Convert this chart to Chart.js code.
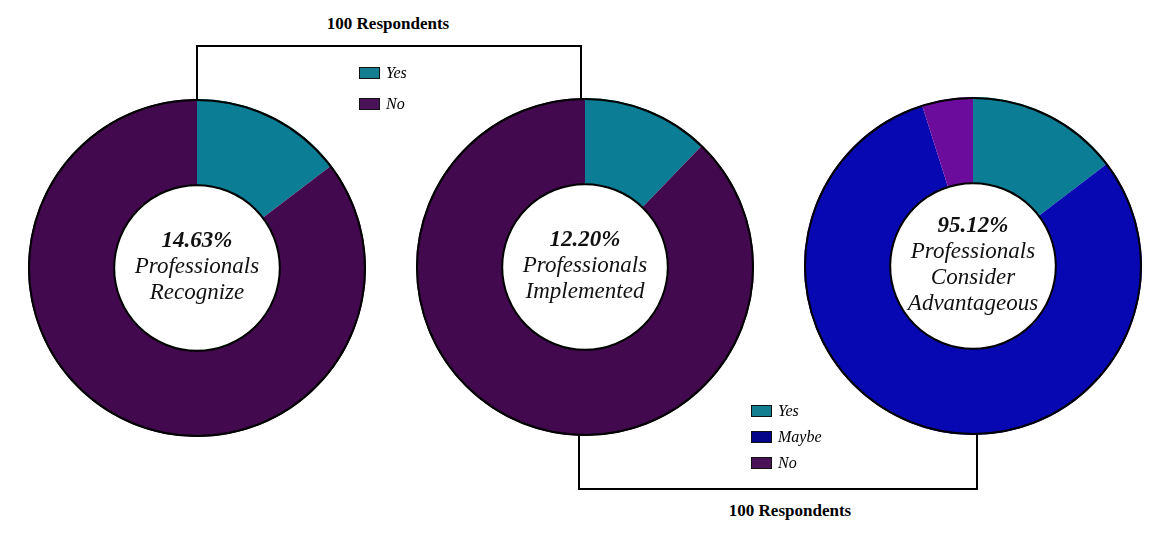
<!DOCTYPE html>
<html>
<head>
<meta charset="utf-8">
<script src="https://cdn.jsdelivr.net/npm/chart.js@4"></script>
<style>
    body { margin: 0; background: #fff; width: 1171px; height: 537px; position: relative; overflow: hidden; font-family: "Liberation Serif", "Times New Roman", serif; }
    canvas { position: absolute; z-index: 2; }
    .box { position: absolute; border: 2px solid #000; z-index: 1; }
    .caption { position: absolute; font-weight: bold; font-size: 17px; width: 200px; text-align: center; }
    .legend { position: absolute; font-style: italic; font-size: 16px; z-index: 3; }
    .legend div { height: 26px; line-height: 26px; }
    #legendTop div { height: 31px; line-height: 31px; }
    .legend span { display: inline-block; width: 19px; height: 10px; border: 1.5px solid #111; margin-right: 6px; vertical-align: -1px; }
    .center { position: absolute; z-index: 4; width: 200px; text-align: center; font-style: italic; font-size: 23px; line-height: 26px; color: #111; }
    .center b { font-weight: bold; }
</style>
</head>
<body>
<div class="box" style="left:196px; top:45px; width:382px; height:60px; border-bottom:none;"></div>
<div class="caption" style="left:288px; top:14px;">100 Respondents</div>
<div class="legend" id="legendTop" style="left:359px; top:57px;"></div>

<div class="box" style="left:578px; top:420px; width:396px; height:68px; border-top:none;"></div>
<div class="caption" style="left:690px; top:501px;">100 Respondents</div>
<div class="legend" id="legendBottom" style="left:751px; top:398px;"></div>

<canvas id="recognize" width="338" height="338" style="left:28px; top:99px;"></canvas>
<canvas id="implemented" width="338" height="338" style="left:416px; top:98px;"></canvas>
<canvas id="advantageous" width="338" height="338" style="left:804px; top:97px;"></canvas>

<script>
// answers and shares (out of 41 professionals)
var labels2 = ['Yes', 'No'];
var labels3 = ['Yes', 'Maybe', 'No'];
var recognizeValues = [14.63, 85.37];
var implementedValues = [12.20, 87.80];
var advantageousValues = [14.63, 80.49, 4.88];

var recognizeText = ['14.63%', 'Professionals', 'Recognize'];
var implementedText = ['12.20%', 'Professionals', 'Implemented'];
var advantageousText = ['95.12%', 'Professionals', 'Consider', 'Advantageous'];

var colors2 = ['#0b7d95', '#42094f'];
var colors3 = ['#0b7d95', '#0808b2', '#6b0c9c'];
var legendColors2 = ['#127e90', '#4a1357'];
var legendColors3 = ['#127e90', '#05058a', '#4a1357'];

function buildLegend(id, labels, colors) {
    var el = document.getElementById(id);
    labels.forEach(function (label, i) {
        var row = document.createElement('div');
        var sw = document.createElement('span');
        sw.style.background = colors[i];
        row.appendChild(sw);
        row.appendChild(document.createTextNode(label));
        el.appendChild(row);
    });
}
buildLegend('legendTop', labels2, legendColors2);
buildLegend('legendBottom', labels3, legendColors3);

var ringPlugin = {
    id: 'ring',
    afterDatasetsDraw: function (chart) {
        var arc = chart.getDatasetMeta(0).data[0];
        var ctx = chart.ctx;
        ctx.save();
        ctx.strokeStyle = '#000';
        ctx.lineWidth = 2;
        ctx.beginPath();
        ctx.arc(arc.x, arc.y, arc.outerRadius - 1, 0, Math.PI * 2);
        ctx.stroke();
        ctx.beginPath();
        ctx.arc(arc.x, arc.y, arc.innerRadius, 0, Math.PI * 2);
        ctx.stroke();
        ctx.restore();
    }
};

// text in the hole, placed at the chart's own centre
function centerLabel(chart, lines) {
    var arc = chart.getDatasetMeta(0).data[0];
    var cv = chart.canvas;
    var div = document.createElement('div');
    div.className = 'center';
    lines.forEach(function (line, i) {
        var row = document.createElement('div');
        if (i === 0) {
            var b = document.createElement('b');
            b.textContent = line;
            row.appendChild(b);
        } else {
            row.textContent = line;
        }
        div.appendChild(row);
    });
    document.body.appendChild(div);
    var h = lines.length * 26;
    div.style.left = (cv.offsetLeft + arc.x - 100) + 'px';
    div.style.top = (cv.offsetTop + arc.y - h / 2 - 2) + 'px';
}

function makeDonut(id, labels, values, colors, lines) {
    var ctx = document.getElementById(id).getContext('2d');
    var chart = new Chart(ctx, {
        type: 'doughnut',
        data: {
            labels: labels,
            datasets: [{
                data: values,
                backgroundColor: colors,
                borderWidth: 0,
                hoverOffset: 0
            }]
        },
        options: {
            responsive: false,
            animation: false,
            cutout: '49%',
            layout: { padding: 0 },
            events: [],
            plugins: {
                legend: { display: false },
                tooltip: { enabled: false }
            }
        },
        plugins: [ringPlugin]
    });
    centerLabel(chart, lines);
    return chart;
}

makeDonut('recognize', labels2, recognizeValues, colors2, recognizeText);
makeDonut('implemented', labels2, implementedValues, colors2, implementedText);
makeDonut('advantageous', labels3, advantageousValues, colors3, advantageousText);
</script>
</body>
</html>
